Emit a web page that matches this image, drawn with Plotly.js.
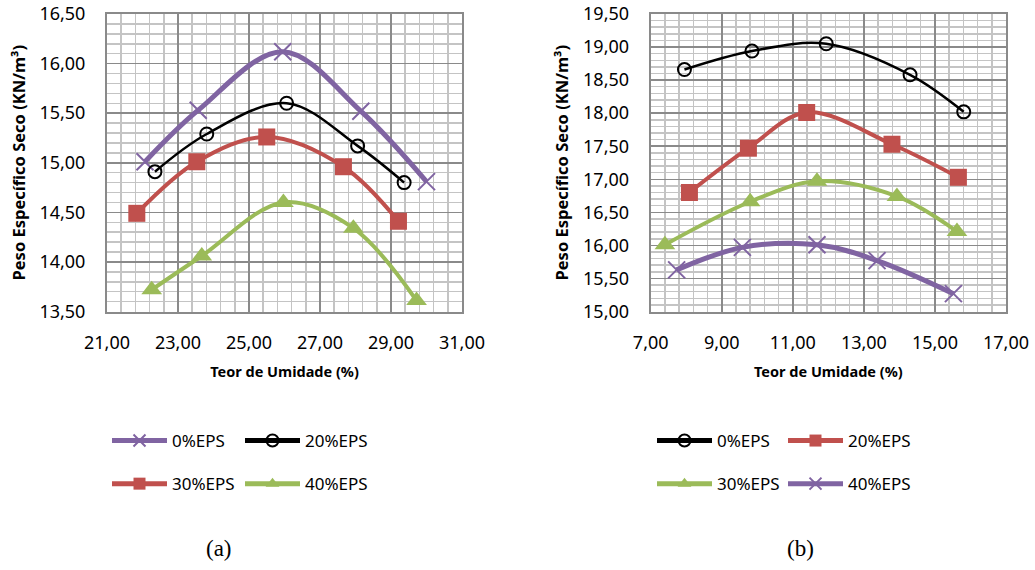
<!DOCTYPE html>
<html><head><meta charset="utf-8">
<script src="https://cdn.plot.ly/plotly-3.0.1.min.js"></script>
<style>html,body{margin:0;padding:0;background:#fff}#chart{width:1035px;height:570px}</style>
</head><body><div id="chart"></div>
<script>
// ---- Chart (a) data ----
const namesA = ['0%EPS', '20%EPS', '30%EPS', '40%EPS'];
const xA_0 = [22.07, 23.57, 25.95, 28.15, 30.00];
const yA_0 = [15.01, 15.53, 16.12, 15.52, 14.81];
const xA_20 = [22.35, 23.81, 26.06, 28.06, 29.37];
const yA_20 = [14.91, 15.29, 15.60, 15.17, 14.80];
const xA_30 = [21.84, 23.53, 25.50, 27.66, 29.21];
const yA_30 = [14.49, 15.01, 15.26, 14.96, 14.41];
const xA_40 = [22.26, 23.67, 25.97, 27.94, 29.72];
const yA_40 = [13.72, 14.06, 14.60, 14.34, 13.61];

// ---- Chart (b) data ----
const namesB = ['0%EPS', '20%EPS', '30%EPS', '40%EPS'];
const xB_0 = [7.95, 9.85, 11.94, 14.30, 15.81];
const yB_0 = [18.66, 18.94, 19.05, 18.58, 18.02];
const xB_20 = [8.09, 9.75, 11.39, 13.79, 15.66];
const yB_20 = [16.80, 17.47, 18.01, 17.53, 17.03];
const xB_30 = [7.40, 9.80, 11.68, 13.93, 15.62];
const yB_30 = [16.01, 16.66, 16.97, 16.74, 16.21];
const xB_40 = [7.73, 9.58, 11.68, 13.37, 15.52];
const yB_40 = [15.63, 15.97, 16.01, 15.77, 15.27];

const xTitle = 'Teor de Umidade (%)';
const yTitle = 'Peso Específico Seco (KN/m³)';
const panelLabels = ['(a)', '(b)'];

const PURPLE = '#8064A2', BLACK = '#000000', RED = '#C0504D', GREEN = '#9BBB59';
const styles = {
  purple: {line: {color: PURPLE, width: 5, shape: 'spline', smoothing: 1},
           marker: {symbol: 'x-thin-open', size: 17, color: PURPLE, line: {color: PURPLE, width: 2}}},
  black: {line: {color: BLACK, width: 2.5, shape: 'spline', smoothing: 1},
          marker: {symbol: 'circle', size: 13, color: 'rgba(255,255,255,0)', line: {color: BLACK, width: 2}}},
  red: {line: {color: RED, width: 4, shape: 'spline', smoothing: 1},
        marker: {symbol: 'square', size: 17, color: RED, line: {width: 0}}},
  green: {line: {color: GREEN, width: 4, shape: 'spline', smoothing: 1},
          marker: {symbol: 'triangle-up', size: 18, color: GREEN, line: {width: 0}}}
};

function tr(x, y, name, st, xa, ya, leg, grp) {
  return Object.assign({type: 'scatter', mode: 'lines+markers', x: x, y: y, name: name,
    xaxis: xa, yaxis: ya, legend: leg, legendgroup: grp, cliponaxis: false}, JSON.parse(JSON.stringify(st)));
}

const data = [
  tr(xA_0, yA_0, namesA[0], styles.purple, 'x', 'y', 'legend', 'a0'),
  tr(xA_30, yA_30, namesA[2], styles.red, 'x', 'y', 'legend', 'a2'),
  tr(xA_20, yA_20, namesA[1], styles.black, 'x', 'y', 'legend2', 'a1'),
  tr(xA_40, yA_40, namesA[3], styles.green, 'x', 'y', 'legend2', 'a3'),
  tr(xB_0, yB_0, namesB[0], styles.black, 'x2', 'y2', 'legend3', 'b0'),
  tr(xB_30, yB_30, namesB[2], styles.green, 'x2', 'y2', 'legend3', 'b2'),
  tr(xB_20, yB_20, namesB[1], styles.red, 'x2', 'y2', 'legend4', 'b1'),
  tr(xB_40, yB_40, namesB[3], styles.purple, 'x2', 'y2', 'legend4', 'b3')
];

const MAJ = '#8a8a8a', MIN = '#c4c4c4';
function xax(domain, range, anchor) {
  return {domain: domain, range: range, anchor: anchor, tick0: range[0], dtick: 2, tickformat: '.2f',
    showgrid: true, gridcolor: MAJ, gridwidth: 1.5, zeroline: false,
    showline: true, linecolor: MAJ, linewidth: 2, mirror: true,
    minor: {dtick: 0.4, tick0: range[0], showgrid: true, gridcolor: MIN, gridwidth: 1.5},
    ticks: '', ticklabelstandoff: 14, tickfont: {size: 18, color: '#000'},
    title: {text: '<b>' + xTitle + '</b>', font: {size: 14.5, color: '#000'}, standoff: 14}};
}
function yax(domain, range, anchor) {
  return {domain: domain, range: range, anchor: anchor, tick0: range[0], dtick: 0.5, tickformat: '.2f',
    showgrid: true, gridcolor: MAJ, gridwidth: 1.5, zeroline: false,
    showline: true, linecolor: MAJ, linewidth: 2, mirror: true,
    minor: {dtick: 0.1, tick0: range[0], showgrid: true, gridcolor: MIN, gridwidth: 1.5},
    ticks: '', ticklabelstandoff: 16, tickfont: {size: 18, color: '#000'},
    title: {text: '<b>' + yTitle + '</b>', font: {size: 16.5, color: '#000'}, standoff: 10}};
}
const yDom = [1 - 311.5 / 570, 1 - 14 / 570];
function leg(xpx) {
  return {x: xpx / 1035, y: 1 - 423 / 570, xanchor: 'left', yanchor: 'top', orientation: 'v',
    font: {size: 17, color: '#000'}, itemwidth: 55, itemsizing: 'constant', tracegroupgap: 18,
    bgcolor: 'rgba(0,0,0,0)', borderwidth: 0};
}

const layout = {
  width: 1035, height: 570, margin: {l: 0, r: 0, t: 0, b: 0},
  paper_bgcolor: '#fff', plot_bgcolor: '#fff', separators: ',.',
  font: {family: 'Noto Sans, sans-serif', color: '#000'},
  showlegend: true,
  xaxis: xax([107 / 1035, 462 / 1035], [21, 31], 'y'),
  yaxis: yax(yDom, [13.5, 16.5], 'x'),
  xaxis2: xax([650.7 / 1035, 1006 / 1035], [7, 17], 'y2'),
  yaxis2: yax(yDom, [15, 19.5], 'x2'),
  legend: leg(107), legend2: leg(240), legend3: leg(652), legend4: leg(783),
  annotations: [
    {text: panelLabels[0], x: 219 / 1035, y: 1 - 548 / 570, xref: 'paper', yref: 'paper', showarrow: false,
     xanchor: 'center', yanchor: 'middle', font: {family: 'Liberation Serif, serif', size: 23, color: '#000'}},
    {text: panelLabels[1], x: 800 / 1035, y: 1 - 548 / 570, xref: 'paper', yref: 'paper', showarrow: false,
     xanchor: 'center', yanchor: 'middle', font: {family: 'Liberation Serif, serif', size: 23, color: '#000'}}
  ]
};
Plotly.newPlot('chart', data, layout, {displayModeBar: false, staticPlot: true});
</script></body></html>
